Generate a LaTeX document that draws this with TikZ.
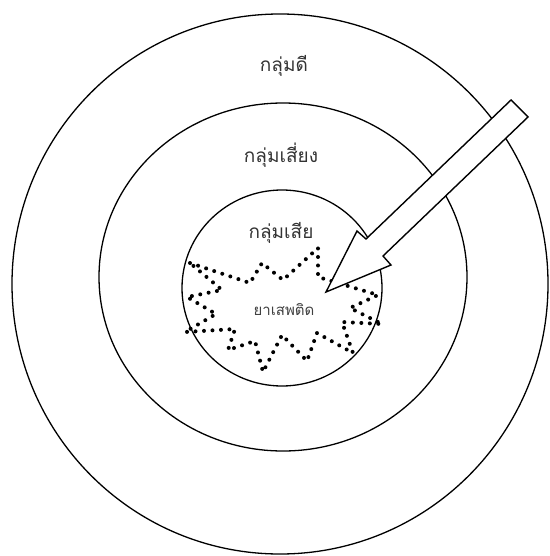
\documentclass[tikz,border=0pt]{standalone}
\usepackage{fontspec}
\newfontfamily\thaifont[Script=Thai]{Loma}
\begin{document}
\begin{tikzpicture}[x=1pt,y=-1pt,
  ring/.style={draw=black,line width=1.3pt},
  lbl/.style={font=\thaifont\fontsize{19}{22}\selectfont,text=black!80},
  small/.style={font=\thaifont\fontsize{15}{17}\selectfont,text=black!75},
  dotline/.style={draw=black,line width=4pt,line cap=round,dash pattern=on 0pt off 8.5pt},
  blockarrow/.style={draw=black,fill=white,line width=1.4pt,line join=miter}]
\useasboundingbox (0,0) rectangle (549,556);
\clip (0,0) rectangle (549,556);
\draw[ring] (280,284) ellipse [x radius=268, y radius=270];
\draw[ring] (283,277) ellipse [x radius=184, y radius=174];
\draw[ring] (282,288) ellipse [x radius=100, y radius=98];
\node[lbl] (good) at (284,66) {กลุ่มดี};
\node[lbl] (risk) at (281,155) {กลุ่มเสี่ยง};
\node[lbl] (bad) at (281,233) {กลุ่มเสีย};
\node[small] (drug) at (284,310) {ยาเสพติด};
\draw[dotline] (190,263) -- (250,283) -- (262,263) -- (283,280) -- (318,248) -- (318,277)
  -- (378,295) -- (350,308) -- (382,324) -- (342,322) -- (353,353) -- (317,333)
  -- (307,361) -- (282,335) -- (263,372) -- (255,341) -- (228,350) -- (235,329)
  -- (185,332) -- (216,314) -- (187,297) -- (222,290) -- cycle;
\draw[blockarrow] (511,100) -- (366,239) -- (357,231) -- (326,292) -- (391,265)
  -- (383,256) -- (528,117) -- cycle;
\end{tikzpicture}
\end{document}
